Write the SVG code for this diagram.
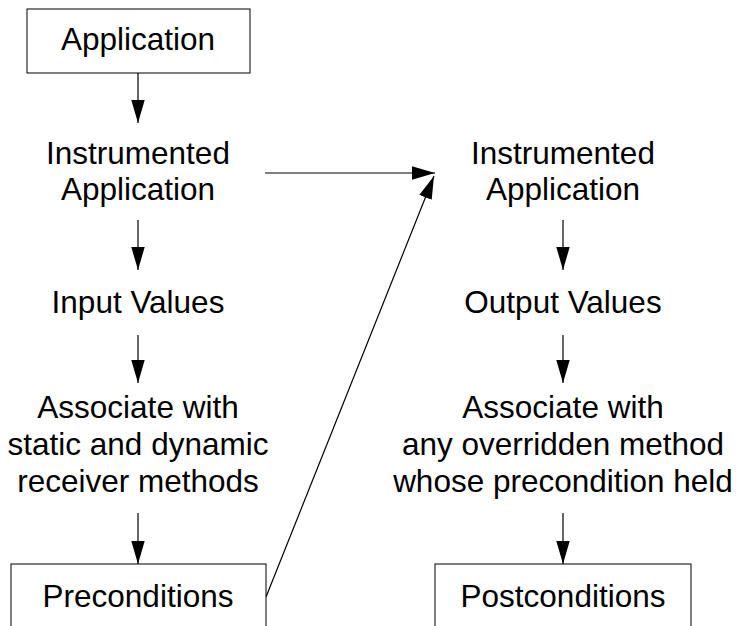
<svg xmlns="http://www.w3.org/2000/svg" width="736" height="626" viewBox="0 0 736 626">
<defs>
<style>
text{font-family:"Liberation Sans",Arial,sans-serif;font-size:31.5px;fill:#000;text-anchor:middle}
.box{fill:#fff;stroke:#000;stroke-width:1}
.ln{stroke:#000;stroke-width:1.2;fill:none;marker-end:url(#ah)}
</style>
<marker id="ah" markerUnits="userSpaceOnUse" markerWidth="24" markerHeight="16" viewBox="0 0 24 16" refX="23" refY="8" orient="auto">
<path d="M0,1.3 L23,8 L0,14.7 Z" fill="#000"/>
</marker>
</defs>
<rect width="736" height="626" fill="#fff"/>
<g id="connectors">
<line class="ln" x1="138" y1="73" x2="138" y2="123"/>
<line class="ln" x1="138" y1="220" x2="138" y2="270"/>
<line class="ln" x1="138" y1="335" x2="138" y2="383"/>
<line class="ln" x1="138" y1="513" x2="138" y2="564"/>
<line class="ln" x1="265" y1="173" x2="435" y2="173"/>
<line class="ln" x1="266" y1="597" x2="434" y2="176"/>
<line class="ln" x1="563" y1="220" x2="563" y2="270"/>
<line class="ln" x1="563" y1="335" x2="563" y2="383"/>
<line class="ln" x1="563" y1="513" x2="563" y2="564"/>
</g>
<g id="application">
<rect class="box" x="27" y="9" width="223" height="64"/>
<text x="138" y="50">Application</text>
</g>
<g id="instrumented-left">
<text x="138" y="164">Instrumented</text>
<text x="138" y="200">Application</text>
</g>
<g id="input-values">
<text x="138" y="313">Input Values</text>
</g>
<g id="associate-left">
<text x="138" y="418">Associate with</text>
<text x="138" y="455">static and dynamic</text>
<text x="138" y="492">receiver methods</text>
</g>
<g id="preconditions">
<rect class="box" x="11" y="564" width="255" height="80"/>
<text x="138" y="607">Preconditions</text>
</g>
<g id="instrumented-right">
<text x="563" y="164">Instrumented</text>
<text x="563" y="200">Application</text>
</g>
<g id="output-values">
<text x="563" y="313">Output Values</text>
</g>
<g id="associate-right">
<text x="563" y="418">Associate with</text>
<text x="563" y="455">any overridden method</text>
<text x="563" y="492">whose precondition held</text>
</g>
<g id="postconditions">
<rect class="box" x="435" y="564" width="256" height="80"/>
<text x="563" y="607">Postconditions</text>
</g>
</svg>
